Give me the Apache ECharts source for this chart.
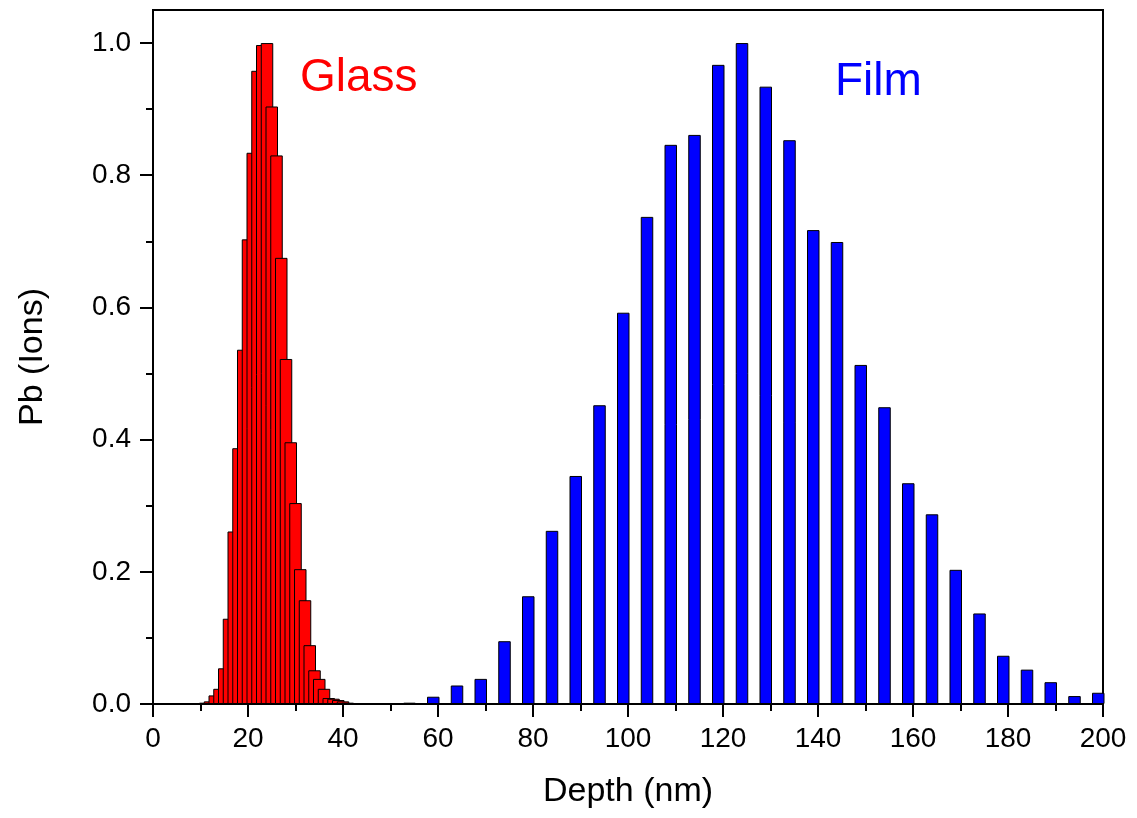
<!DOCTYPE html>
<html>
<head>
<meta charset="utf-8">
<title>Pb depth profile</title>
<script src="https://cdn.jsdelivr.net/npm/echarts@6/dist/echarts.min.js"></script>
<style>
  html, body { margin: 0; padding: 0; background: #fff; }
  #chart { width: 1137px; height: 818px; }
</style>
</head>
<body>
<div id="chart"></div>
<script>
// Pb profile in the glass substrate (1 nm steps)
const glassDepth = [10, 11, 12, 13, 14, 15, 16, 17, 18, 19, 20, 21, 22, 23, 24, 25,
                    26, 27, 28, 29, 30, 31, 32, 33, 34, 35, 36, 37, 38, 39, 40, 41];
const glassPb = [0.001, 0.002, 0.004, 0.013, 0.023, 0.054, 0.129, 0.261, 0.387, 0.536,
                 0.703, 0.834, 0.958, 0.997, 1.0, 0.904, 0.830, 0.675, 0.522, 0.396,
                 0.304, 0.204, 0.157, 0.089, 0.051, 0.038, 0.023, 0.009, 0.008, 0.006,
                 0.004, 0.002];

// Pb profile in the film (5 nm steps)
const filmDepth = [54, 59, 64, 69, 74, 79, 84, 89, 94, 99, 104, 109, 114, 119, 124,
                   129, 134, 139, 144, 149, 154, 159, 164, 169, 174, 179, 184, 189, 194, 199];
const filmPb = [0.002, 0.011, 0.028, 0.038, 0.095, 0.163, 0.262, 0.345, 0.452, 0.592,
                0.737, 0.846, 0.861, 0.967, 1.0, 0.934, 0.853, 0.717, 0.699, 0.513,
                0.449, 0.334, 0.287, 0.203, 0.137, 0.073, 0.052, 0.033, 0.012, 0.017];

// Axis ticks
const yMajorTicks = [0, 0.2, 0.4, 0.6, 0.8, 1.0];
const yMinorTicks = [0.1, 0.3, 0.5, 0.7, 0.9];

const FONT = '"Liberation Sans", Arial, sans-serif';

const toPairs = (xs, ys) => xs.map((x, i) => [x, ys[i]]);

const chart = echarts.init(document.getElementById('chart'), null, { renderer: 'canvas' });

chart.setOption({
  animation: false,
  backgroundColor: '#ffffff',
  grid: {
    left: 153, right: 34, top: 10, bottom: 114,
    show: true, borderColor: '#000', borderWidth: 2, backgroundColor: 'transparent'
  },
  xAxis: {
    type: 'value',
    min: 0, max: 200, interval: 20,
    name: 'Depth (nm)',
    nameLocation: 'middle',
    nameGap: 71,
    nameTextStyle: { fontFamily: FONT, fontSize: 34, color: '#000' },
    axisLine: { show: true, onZero: false, lineStyle: { color: '#000', width: 2 } },
    axisTick: { show: true, inside: false, length: 13, lineStyle: { color: '#000', width: 2 } },
    minorTick: { show: true, splitNumber: 2, length: 7, lineStyle: { color: '#000', width: 2 } },
    axisLabel: { fontFamily: FONT, fontSize: 28, color: '#000', margin: 21 },
    splitLine: { show: false },
    minorSplitLine: { show: false }
  },
  yAxis: [
    {
      type: 'value',
      min: 0, max: 1.05,
      position: 'left',
      name: 'Pb (Ions)',
      nameLocation: 'middle',
      nameGap: 103,
      nameTextStyle: { fontFamily: FONT, fontSize: 34, color: '#000' },
      axisLine: { show: true, onZero: false, lineStyle: { color: '#000', width: 2 } },
      axisTick: { show: true, inside: false, length: 13, customValues: yMajorTicks,
                  lineStyle: { color: '#000', width: 2 } },
      axisLabel: { fontFamily: FONT, fontSize: 28, color: '#000', margin: 22,
                   customValues: yMajorTicks, formatter: v => v.toFixed(1) },
      splitLine: { show: false }
    },
    {
      // minor ticks only
      type: 'value',
      min: 0, max: 1.05,
      position: 'left',
      axisLine: { show: false },
      axisTick: { show: true, inside: false, length: 7, customValues: yMinorTicks,
                  lineStyle: { color: '#000', width: 2 } },
      axisLabel: { show: false },
      splitLine: { show: false }
    }
  ],
  series: [
    {
      name: 'Glass',
      type: 'bar',
      data: toPairs(glassDepth, glassPb),
      barWidth: 12.5,
      barGap: '-100%',
      itemStyle: { color: '#ff0000', borderColor: '#000', borderWidth: 1 },
      clip: true
    },
    {
      name: 'Film',
      type: 'bar',
      data: toPairs(filmDepth, filmPb),
      barWidth: 12.5,
      barGap: '-100%',
      itemStyle: { color: '#0000ff', borderColor: '#000', borderWidth: 1 },
      clip: true
    }
  ],
  graphic: [
    {
      type: 'text',
      style: { x: 300, y: 55, text: 'Glass', fill: '#ff0000',
               font: '46px ' + FONT, verticalAlign: 'top', align: 'left' }
    },
    {
      type: 'text',
      style: { x: 835, y: 59, text: 'Film', fill: '#0000ff',
               font: '46px ' + FONT, verticalAlign: 'top', align: 'left' }
    }
  ]
});
</script>
</body>
</html>
